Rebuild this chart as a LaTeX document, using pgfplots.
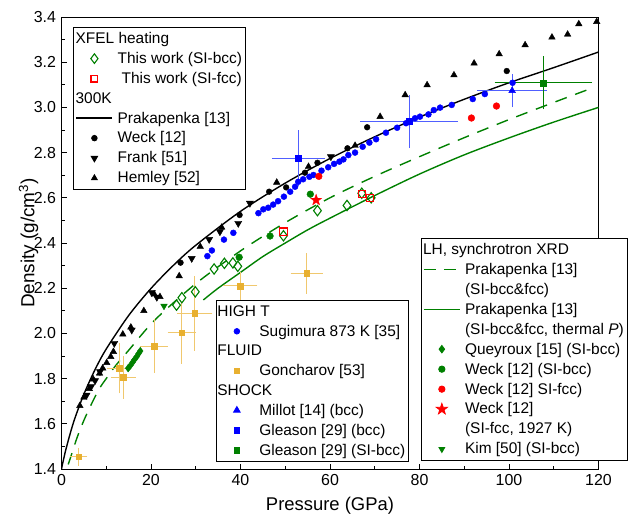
\documentclass[border=0pt]{standalone}
\usepackage{fontspec}
\setmainfont{Liberation Sans}
\usepackage{pgfplots}
\pgfplotsset{compat=1.18}
\usetikzlibrary{calc}
\definecolor{dgreen}{RGB}{0,128,0}
\definecolor{gold}{RGB}{232,176,48}
\definecolor{goldbar}{RGB}{240,200,110}
\definecolor{lblue}{RGB}{80,95,255}

\pgfdeclareplotmark{fstar}{%
 \pgfpathmoveto{\pgfpointpolar{90}{\pgfplotmarksize}}%
 \pgfpathlineto{\pgfpointpolar{126}{0.4\pgfplotmarksize}}%
 \pgfpathlineto{\pgfpointpolar{162}{\pgfplotmarksize}}%
 \pgfpathlineto{\pgfpointpolar{198}{0.4\pgfplotmarksize}}%
 \pgfpathlineto{\pgfpointpolar{234}{\pgfplotmarksize}}%
 \pgfpathlineto{\pgfpointpolar{270}{0.4\pgfplotmarksize}}%
 \pgfpathlineto{\pgfpointpolar{306}{\pgfplotmarksize}}%
 \pgfpathlineto{\pgfpointpolar{342}{0.4\pgfplotmarksize}}%
 \pgfpathlineto{\pgfpointpolar{18}{\pgfplotmarksize}}%
 \pgfpathlineto{\pgfpointpolar{54}{0.4\pgfplotmarksize}}%
 \pgfpathclose\pgfusepathqfillstroke}

\pgfplotsset{
 legaxis/.style={hide axis, scale only axis, width=537bp, height=452bp,
   xmin=0,xmax=120,ymin=1.4,ymax=3.4,
   legend cell align=left,
   legend image code/.code={\path[draw=none,fill=none] (0bp,0bp) (36bp,0bp);\draw[mark repeat=2,mark phase=2,##1] plot coordinates {(0bp,0bp) (18bp,0bp) (36bp,0bp)};},
   legend style={font=\fontsize{15.5}{18}\selectfont, draw=black, line width=0.8pt, fill=white,
     anchor=north west, inner xsep=2bp, inner ysep=3bp,
     nodes={inner sep=1.5bp}, row sep=4.3bp, column sep=3bp}},
 hdr/.style={empty legend},
}
\newcommand{\hd}[1]{\makebox[0pt][l]{\hspace*{-42bp}#1}}

\begin{document}
\begin{tikzpicture}
\begin{axis}[
 scale only axis, width=537bp, height=452bp,
 xmin=0, xmax=120, ymin=1.4, ymax=3.4,
 xtick={0,20,40,60,80,100,120},
 ytick={1.4,1.6,1.8,2.0,2.2,2.4,2.6,2.8,3.0,3.2,3.4},
 minor x tick num=1, minor y tick num=1,
 tick align=inside, tick pos=left,
 major tick length=5bp, minor tick length=3bp,
 every tick/.style={black, line width=0.8pt},
 axis line style={line width=0.9pt},
 /pgf/number format/assume math mode=true,
 yticklabel style={font=\fontsize{16}{19}\selectfont, /pgf/number format/fixed, /pgf/number format/fixed zerofill, /pgf/number format/precision=1, xshift=-2bp},
 xticklabel style={font=\fontsize{16}{19}\selectfont, yshift=-2bp},
 xlabel={Pressure (GPa)},
 ylabel={Density (g/cm\textsuperscript{3})},
 every axis x label/.style={at={(axis description cs:0.5,0)}, anchor=base, yshift=-41bp, font=\fontsize{18.5}{22}\selectfont},
 every axis y label/.style={at={(axis description cs:-0.0615,0.5)}, rotate=90, anchor=center, font=\fontsize{19}{22}\selectfont},
]
\coordinate (bl) at (rel axis cs:0,0);
\coordinate (tr) at (rel axis cs:1,1);

% Prakapenka 300 K
\addplot[black, line width=1.4pt, smooth] coordinates {(0,1.400)(0.25,1.424)(0.5,1.446)(1,1.488)(2,1.561)(3,1.625)(5,1.731)(7.5,1.840)(10,1.931)(15,2.079)(20,2.199)(25,2.301)(30,2.390)(40,2.540)(50,2.665)(60,2.774)(70,2.870)(80,2.957)(90,3.036)(100,3.109)(110,3.176)(120,3.245)};
% Prakapenka SI
\addplot[dgreen, line width=1.4pt, dash pattern=on 12bp off 9bp, smooth] coordinates {(1.5,1.42)(2.5,1.48)(3.5,1.54)(5,1.615)(7,1.70)(8.6,1.76)(10,1.80)(12,1.855)(15,1.925)(20.9,2.06)(30,2.22)(40,2.365)(50,2.49)(60,2.60)(70,2.695)(80,2.782)(90,2.866)(100,2.946)(110,3.022)(118.5,3.085)};
% Prakapenka SI thermal P
\addplot[dgreen, line width=1.4pt, smooth] coordinates {(31.7,2.148)(35,2.20)(40,2.27)(45,2.34)(50,2.40)(55,2.458)(60,2.51)(70,2.61)(80,2.705)(90,2.79)(100,2.865)(110,2.935)(120,3.0)};

% Hemley
\addplot[only marks, mark=triangle*, black, mark size=3.8] coordinates {(4.1,1.68)(5.0,1.717)(6.2,1.755)(7.1,1.797)(8.5,1.823)(9.2,1.846)(10.1,1.870)(11.0,1.897)(11.6,1.919)(13.7,1.996)(15.5,2.027)(18.4,2.10)(20.7,2.174)(22.0,2.162)(26.3,2.254)(31.0,2.384)(35.8,2.469)(48.1,2.668)(55.2,2.738)(65.6,2.831)(71.2,2.959)(76.8,3.055)(81.7,3.099)(87.7,3.143)(92.2,3.195)(97.8,3.236)(103.6,3.276)(109.6,3.31)(113.1,3.323)(115.6,3.369)(119.6,3.379)};
% Frank
\addplot[only marks, mark=triangle*, mark options={rotate=180}, black, mark size=4.1] coordinates {(5.6,1.727)(6.6,1.764)(7.5,1.791)(8.6,1.831)(11.8,1.956)(15.7,2.015)(20.2,2.18)(21.3,2.16)(29.1,2.332)(33.0,2.416)(35.4,2.45)(39.5,2.487)(42.1,2.576)(60.2,2.782)};
% Weck 300K
\addplot[only marks, mark=*, black, mark size=2.9] coordinates {(26.6,2.313)(39.8,2.524)(46.4,2.627)(50.2,2.646)(54.4,2.711)(57.2,2.755)(63.9,2.819)(68.3,2.912)(99.5,3.161)};
% Sugimura
\addplot[only marks, mark=*, blue, mark size=3.0] coordinates {(32.6,2.342)(33.6,2.367)(36.3,2.415)(38.4,2.445)(44.0,2.532)(45.1,2.549)(46.2,2.556)(47.3,2.570)(48.4,2.585)(49.7,2.605)(51.1,2.627)(52.2,2.649)(52.9,2.671)(54.0,2.682)(55.4,2.693)(56.3,2.701)(58.1,2.720)(59.6,2.735)(60.9,2.750)(62.1,2.760)(63.0,2.770)(64.1,2.789)(65.6,2.800)(67.3,2.826)(68.8,2.844)(70.3,2.859)(72.5,2.888)(75,2.91)(77,2.93)(79.0,2.952)(80.1,2.959)(82.0,2.969)(83.2,2.988)(84.6,2.999)(87.2,3.011)(91.9,3.037)(94.6,3.059)(100.8,3.109)};
% Goncharov fluid
\addplot[only marks, mark=square*, gold, mark size=2.8,
  error bars/.cd, x dir=both, x explicit, y dir=both, y explicit,
  error bar style={goldbar, line width=1pt}, error mark options={goldbar, mark size=4bp, line width=1pt}]
  coordinates {(3.8,1.455) +- (1.1,0.022) (12.9,1.846) +- (1.8,0.094) (13.8,1.806) +- (1.9,0.077) (20.7,1.944) +- (2.2,0.10) (26.9,2.003) +- (2.3,0.12) (29.8,2.089) +- (3.0,0.147) (39.9,2.21) +- (3.0,0.044) (54.8,2.266) +- (2.7,0.072)};
% Gleason bcc
\addplot[only marks, mark=square*, blue, mark size=3.0,
  error bars/.cd, x dir=both, x explicit, y dir=both, y explicit,
  error bar style={lblue, line width=1pt}, error mark options={lblue, mark size=4bp, line width=1pt}]
  coordinates {(52.9,2.775) +- (5.0,0.107) (77.7,2.937) +- (10.0,0.10)};
% Millot
\addplot[only marks, mark=triangle*, blue, mark size=3.9,
  error bars/.cd, x dir=both, x explicit, y dir=both, y explicit,
  error bar style={lblue, line width=1pt}, error mark options={lblue, mark size=4bp, line width=1pt}]
  coordinates {(100.7,3.074) +- (6.9,0.055)};
% Gleason SI-bcc
\addplot[only marks, mark=square*, dgreen, mark size=3.0,
  error bars/.cd, x dir=both, x explicit, y dir=both, y explicit,
  error bar style={dgreen, line width=1pt}, error mark options={dgreen, mark size=4bp, line width=1pt}]
  coordinates {(107.7,3.109) +- (10.0,0.10)};
% Queyroux
\addplot[only marks, mark=diamond*, dgreen, mark size=3.8] coordinates {(14.9,1.846)(15.4,1.858)(15.9,1.872)(16.3,1.884)(16.8,1.897)(17.2,1.91)(17.6,1.922)};
% Kim
\addplot[only marks, mark=triangle*, mark options={rotate=180}, dgreen, mark size=3.8] coordinates {(22.9,2.121)};
% Weck SI-bcc
\addplot[only marks, mark=*, dgreen, mark size=3.4] coordinates {(39.7,2.337)(46.6,2.431)(55.6,2.616)};
% This work SI-bcc
\addplot[only marks, mark=diamond, dgreen, mark size=5.2, line width=1.1pt] coordinates {(25.7,2.125)(26.9,2.158)(29.9,2.184)(34.1,2.285)(36.4,2.31)(38.3,2.312)(39.4,2.297)(49.6,2.432)(57.2,2.543)(63.8,2.566)(67.1,2.62)(69.2,2.60)};
% This work SI-fcc
\addplot[only marks, mark=square, red, mark size=3.7, line width=1.1pt] coordinates {(49.6,2.45)(67.2,2.616)(68.9,2.600)};
% Weck SI-fcc
\addplot[only marks, mark=*, red, mark size=3.4] coordinates {(57.5,2.695)(91.6,2.953)(97.2,3.006)};
% Weck 1927 K
\addplot[only marks, mark=fstar, red, mark size=5.8] coordinates {(56.9,2.59)};
\end{axis}

% Legend 1
\begin{axis}[legaxis, legend style={at={(0.022,0.977)}}]
\addlegendimage{hdr}\addlegendentry{\hd{XFEL heating}}
\addlegendimage{only marks, mark=diamond, dgreen, mark size=4.8, line width=1.1pt}\addlegendentry{This work (SI-bcc)}
\addlegendimage{only marks, mark=square, red, mark size=3.4, line width=1.1pt}\addlegendentry{\hspace*{4bp}This work (SI-fcc)}
\addlegendimage{hdr}\addlegendentry{\hd{300K}}
\addlegendimage{black, line width=1.4pt}\addlegendentry{Prakapenka [13]}
\addlegendimage{only marks, mark=*, black, mark size=2.8}\addlegendentry{Weck [12]}
\addlegendimage{only marks, mark=triangle*, mark options={rotate=180}, black, mark size=3.8}\addlegendentry{Frank [51]}
\addlegendimage{only marks, mark=triangle*, black, mark size=3.4}\addlegendentry{Hemley [52]}
\end{axis}

% Legend 2
\begin{axis}[legaxis, legend style={at={(0.2886,0.3728)}}]
\addlegendimage{hdr}\addlegendentry{\hd{HIGH T}}
\addlegendimage{only marks, mark=*, blue, mark size=2.8}\addlegendentry{Sugimura 873 K [35]}
\addlegendimage{hdr}\addlegendentry{\hd{FLUID}}
\addlegendimage{only marks, mark=square*, gold, mark size=2.8}\addlegendentry{Goncharov [53]}
\addlegendimage{hdr}\addlegendentry{\hd{SHOCK}}
\addlegendimage{only marks, mark=triangle*, blue, mark size=3.8}\addlegendentry{Millot [14] (bcc)}
\addlegendimage{only marks, mark=square*, blue, mark size=2.9}\addlegendentry{Gleason [29] (bcc)}
\addlegendimage{only marks, mark=square*, dgreen, mark size=2.9}\addlegendentry{Gleason [29] (SI-bcc)}
\end{axis}

% Legend 3
\begin{axis}[legaxis, legend style={at={(0.669,0.511)}}]
\addlegendimage{hdr}\addlegendentry{\hd{LH, synchrotron XRD}}
\addlegendimage{dgreen, line width=1.4pt, dash pattern=on 12bp off 8bp}\addlegendentry{Prakapenka [13]}
\addlegendimage{hdr}\addlegendentry{(SI-bcc\&fcc)}
\addlegendimage{dgreen, line width=1.4pt}\addlegendentry{Prakapenka [13]}
\addlegendimage{hdr}\addlegendentry{(SI-bcc\&fcc, thermal \textit{P})}
\addlegendimage{only marks, mark=diamond*, dgreen, mark size=3.8}\addlegendentry{Queyroux [15] (SI-bcc)}
\addlegendimage{only marks, mark=*, dgreen, mark size=3.2}\addlegendentry{Weck [12] (SI-bcc)}
\addlegendimage{only marks, mark=*, red, mark size=3.2}\addlegendentry{Weck [12] SI-fcc)}
\addlegendimage{only marks, mark=fstar, red, mark size=5.8}\addlegendentry{Weck [12]}
\addlegendimage{hdr}\addlegendentry{(SI-fcc, 1927 K)}
\addlegendimage{only marks, mark=triangle*, mark options={rotate=180}, dgreen, mark size=3.4}\addlegendentry{Kim [50] (SI-bcc)}
\end{axis}

\pgfresetboundingbox
\path[use as bounding box] ($(bl)+(-61.5bp,-45bp)$) rectangle ($(tr)+(31.5bp,17bp)$);
\end{tikzpicture}
\end{document}
